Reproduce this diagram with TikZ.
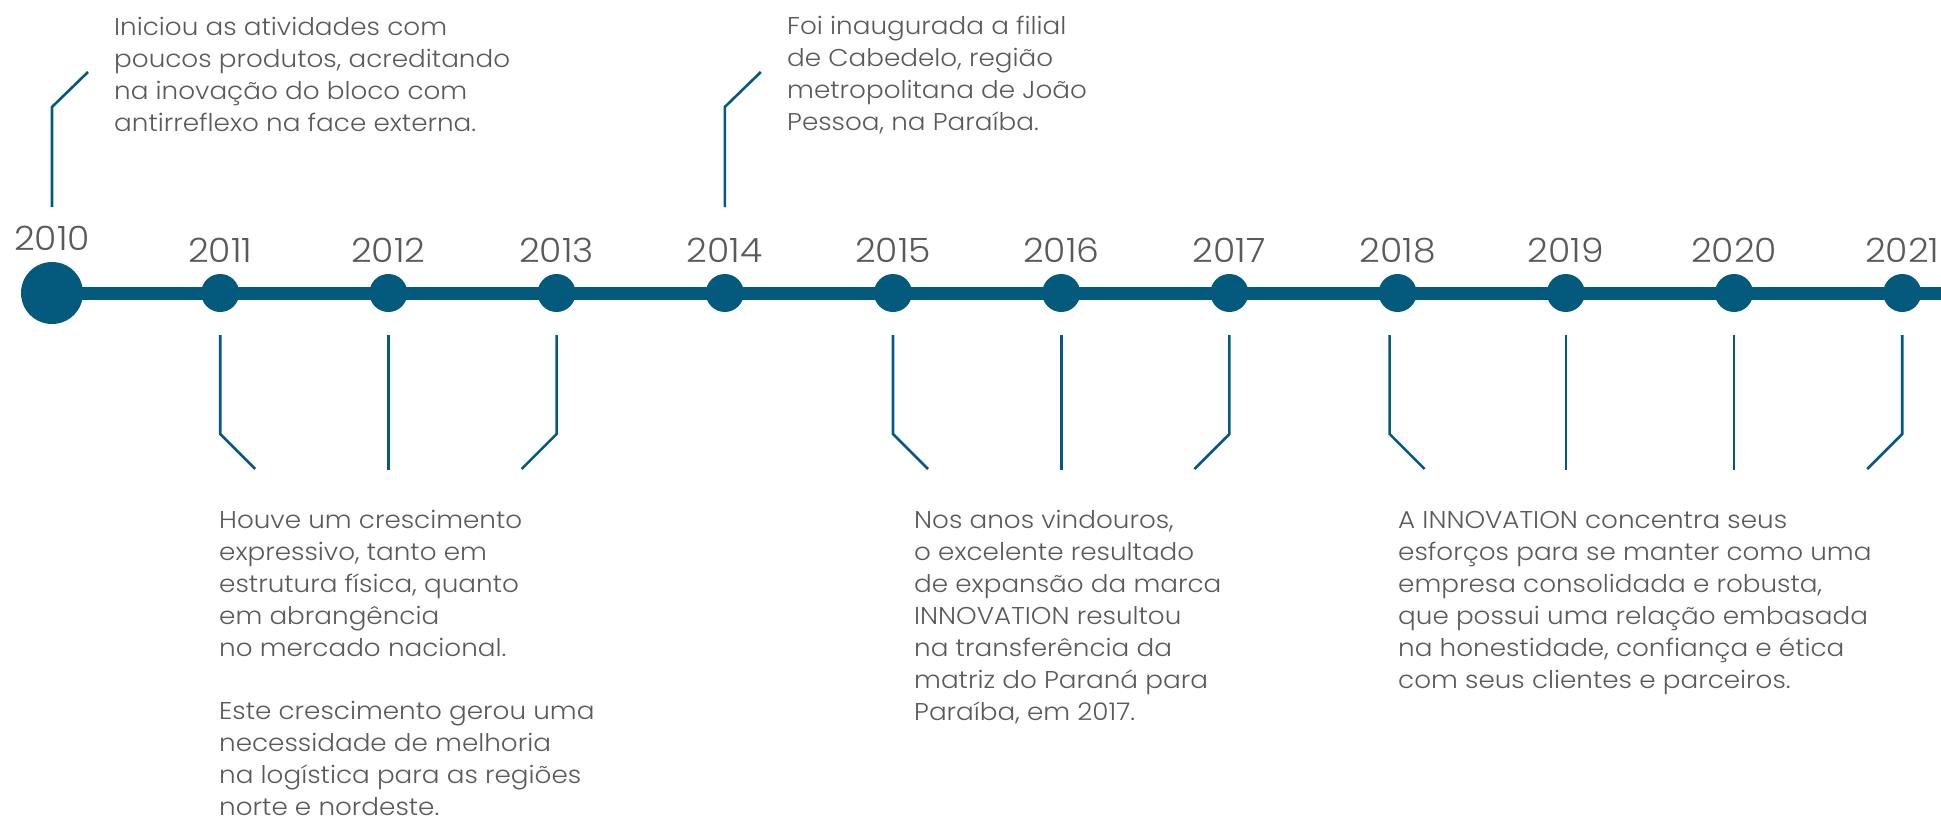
\documentclass[tikz,border=0pt]{standalone}
\usepackage{fontspec}
\setmainfont{Poppins}[UprightFont={* Light}, FakeStretch=1.08]
\usetikzlibrary{calc}
\definecolor{tl}{HTML}{045A7C}
\definecolor{tg}{HTML}{5A5A5A}
\tikzset{
  yr/.style={font=\fontsize{33.5}{33.5}\selectfont, text=tg, inner sep=0, anchor=base},
  dot/.style={circle, fill=tl, minimum size=38pt, inner sep=0},
  bigdot/.style={circle, fill=tl, minimum size=62pt, inner sep=0},
  leader/.style={draw=tl, line width=2.6pt},
  body/.style={font=\fontsize{24.3}{32.1}\selectfont, text=tg, inner sep=0, anchor=base west, align=left},
  axis/.style={draw=tl, line width=13pt}
}
\begin{document}
\begin{tikzpicture}[x=1pt,y=-1pt]
\useasboundingbox (0,0) rectangle (1941,819);
% dots and years
\node[bigdot] (c2010) at (52,293) {};
\node[yr] (y2010) at (52,250) {2010};
\foreach \yy [count=\i] in {2011,...,2021}{
  \node[dot] (c\yy) at ({52+168.2*\i},293) {};
  \node[yr] (y\yy) at ({52+168.2*\i},262) {\yy};
}
\coordinate (axisend) at (1941,293);
\draw[axis] (c2010.center) -- (axisend);
% upper leaders
\foreach \yy in {2010,2014}{
  \draw[leader] ($(c\yy.center)+(0,-86)$) -- ++(0,-100) -- ++(36,-35);
}
% lower leaders
\foreach \yy/\dx/\ddx in {2011/0/35,2013/0/-35,2015/0/35,2017/0/-35,2018/-8/35,2021/0/-35}{
  \draw[leader] ($(c\yy.center)+(\dx,42)$) -- ++(0,99) -- ++(\ddx,35);
}
\foreach \yy in {2012,2016,2019,2020}{
  \draw[leader] ($(c\yy.center)+(0,42)$) -- ++(0,135);
}
% texts (anchor base = baseline of the last line)
\node[body] (t2010) at (114,131.3) {Iniciou as atividades com\\poucos produtos, acreditando\\na inovação do bloco com\\antirreflexo na face externa.};
\node[body] (t2014) at (787,130.3) {Foi inaugurada a filial\\de Cabedelo, região\\metropolitana de João\\Pessoa, na Paraíba.};
\node[body] (t2011) at (219,815.8) {Houve um crescimento\\expressivo, tanto em\\estrutura física, quanto\\em abrangência\\no mercado nacional.\\[31pt]Este crescimento gerou uma\\necessidade de melhoria\\na logística para as regiões\\norte e nordeste.};
\node[body] (t2015) at (914,720.6) {Nos anos vindouros,\\o excelente resultado\\de expansão da marca\\INNOVATION resultou\\na transferência da\\matriz do Paraná para\\Paraíba, em 2017.};
\node[body] (t2018) at (1398,688.5) {A INNOVATION concentra seus\\esforços para se manter como uma\\empresa consolidada e robusta,\\que possui uma relação embasada\\na honestidade, confiança e ética\\com seus clientes e parceiros.};
\end{tikzpicture}
\end{document}
